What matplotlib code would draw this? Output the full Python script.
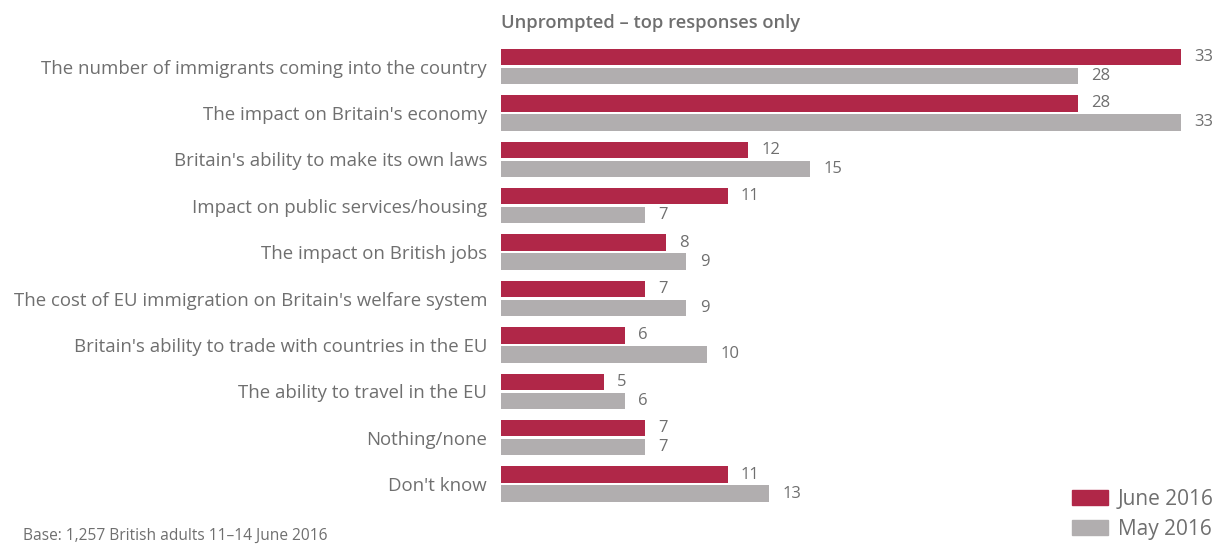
import numpy as np
import matplotlib.pyplot as plt
from matplotlib.patches import Patch

plt.rcParams['font.family'] = ['Open Sans', 'DejaVu Sans']

categories = [
    "The number of immigrants coming into the country",
    "The impact on Britain's economy",
    "Britain's ability to make its own laws",
    "Impact on public services/housing",
    "The impact on British jobs",
    "The cost of EU immigration on Britain's welfare system",
    "Britain's ability to trade with countries in the EU",
    "The ability to travel in the EU",
    "Nothing/none",
    "Don't know",
]
june_2016 = [33, 28, 12, 11, 8, 7, 6, 5, 7, 11]
may_2016 = [28, 33, 15, 7, 9, 9, 10, 6, 7, 13]

red = '#B02748'
grey = '#B1AEAF'
text_grey = '#6f6f6f'

W, H = 1221, 545
fig = plt.figure(figsize=(W / 100, H / 100), dpi=100)
left = 501 / W
ax = fig.add_axes([left, 0, 1 - left, 1])

y = np.arange(len(categories))
h = 0.356
off = 0.205
ax.barh(y - off, june_2016, height=h, color=red)
ax.barh(y + off, may_2016, height=h, color=grey)

for yi, v in zip(y, june_2016):
    ax.text(v + 0.65, yi - off, str(v), va='center', ha='left', fontsize=12, color=text_grey)
for yi, v in zip(y, may_2016):
    ax.text(v + 0.65, yi + off, str(v), va='center', ha='left', fontsize=12, color=text_grey)

ax.set_xlim(0, (W - 501) / 20.6)
ax.set_ylim((H - 66.5) / 46.4, -66.5 / 46.4)
ax.set_yticks(y)
ax.set_yticklabels(categories, fontsize=13.4, color=text_grey)
ax.tick_params(axis='y', length=0, pad=10)
ax.set_xticks([])
for s in ax.spines.values():
    s.set_visible(False)

fig.text(501 / W, 1 - 23 / H, "Unprompted – top responses only", fontsize=13.2,
         fontweight='semibold', color=text_grey, va='center', ha='left')
fig.text(23 / W, 1 - 536 / H, "Base: 1,257 British adults 11–14 June 2016", fontsize=11.2,
         color=text_grey, va='center', ha='left')

handles = [Patch(color=red, label='June 2016'), Patch(color=grey, label='May 2016')]
leg = fig.legend(handles=handles, loc='lower right', bbox_to_anchor=(1214 / W, 5 / H),
                 frameon=False, fontsize=15, handlelength=1.73, handleheight=0.72,
                 handletextpad=0.5, labelspacing=0.44, borderpad=0, borderaxespad=0)
for t in leg.get_texts():
    t.set_color(text_grey)

fig.savefig('out.png', dpi=100)
